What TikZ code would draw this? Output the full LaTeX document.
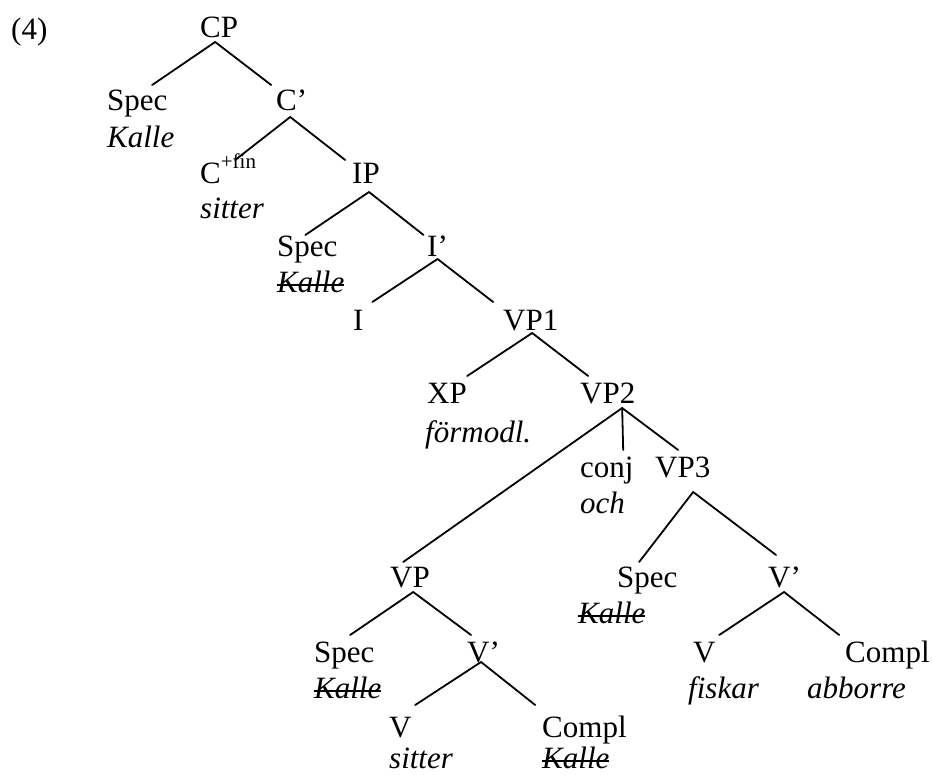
\documentclass[tikz,border=0pt]{standalone}
\usepackage{fontspec}
\setmainfont{Liberation Serif}
\newcommand\strk[1]{\setbox0=\hbox{#1}\rlap{\copy0}\rule[6.3pt]{\wd0}{1.8pt}}
\begin{document}
\begin{tikzpicture}[x=1pt,y=-1pt,
  every node/.style={inner sep=0pt, anchor=base west, font=\fontsize{31}{36}\selectfont},
  cat/.style={},
  word/.style={font=\fontsize{31}{36}\selectfont\itshape},
  branch/.style={line width=1.8pt, line cap=round}]
\useasboundingbox (0,0) rectangle (932,774);
% labels
\node (ex) at (11,39) {(4)};
\node[cat] (cp) at (200,37) {CP};
\node[cat] (spec1) at (107,110) {Spec};
\node[word] (kalle1) at (107,147) {Kalle};
\node[cat] (cb) at (276,110) {C’};
\node[cat] (c) at (200,183) {C\raisebox{15pt}{\fontsize{21}{21}\selectfont +fin}};
\node[word] (sitter1) at (200,218) {sitter};
\node[cat] (ip) at (352,183) {IP};
\node[cat] (spec2) at (277,256) {Spec};
\node[word] (kalle2) at (277,292) {\strk{Kalle}};
\node[cat] (ib) at (427,256) {I’};
\node[cat] (i) at (353,330) {I};
\node[cat] (vp1) at (503,330) {VP1};
\node[cat] (xp) at (427,403) {XP};
\node[word] (formodl) at (425,442) {förmodl.};
\node[cat] (vp2) at (580,403) {VP2};
\node[cat] (conj) at (580,477) {conj};
\node[word] (och) at (580,513) {och};
\node[cat] (vp3) at (655,477) {VP3};
\node[cat] (vp) at (390,587) {VP};
\node[cat] (spec3) at (617,587) {Spec};
\node[word] (kalle3) at (578,623) {\strk{Kalle}};
\node[cat] (vb3) at (768,587) {V’};
\node[cat] (spec4) at (314,662) {Spec};
\node[word] (kalle4) at (314,698) {\strk{Kalle}};
\node[cat] (vb4) at (467,662) {V’};
\node[cat] (v3) at (693,662) {V};
\node[word] (fiskar) at (688,698) {fiskar};
\node[cat] (compl3) at (845,662) {Compl};
\node[word] (abborre) at (807,698) {abborre};
\node[cat] (v4) at (389,737) {V};
\node[word] (sitter2) at (389,768) {sitter};
\node[cat] (compl4) at (542,737) {Compl};
\node[word] (kalle5) at (542,768) {\strk{Kalle}};
% branches
\draw[branch] ([shift={(-4,5)}]cp.base) -- ([shift={(14.8,-25)}]spec1.base);
\draw[branch] ([shift={(-4,5)}]cp.base) -- ([shift={(-20.5,-25)}]cb.base);
\draw[branch] ([shift={(-1.5,7)}]cb.base) -- ([shift={(7,-23)}]c.base);
\draw[branch] ([shift={(-1.5,7)}]cb.base) -- ([shift={(-20.8,-23)}]ip.base);
\draw[branch] ([shift={(3,9)}]ip.base) -- ([shift={(-2,-21)}]spec2.base);
\draw[branch] ([shift={(3,9)}]ip.base) -- ([shift={(-14,-21)}]ib.base);
\draw[branch] ([shift={(0,3)}]ib.base) -- ([shift={(14,-28)}]i.base);
\draw[branch] ([shift={(0,3)}]ib.base) -- ([shift={(-37.6,-28)}]vp1.base);
\draw[branch] ([shift={(1.4,3)}]vp1.base) -- ([shift={(20.2,-27)}]xp.base);
\draw[branch] ([shift={(1.4,3)}]vp1.base) -- ([shift={(-19.6,-27)}]vp2.base);
\draw[branch] ([shift={(14.4,5)}]vp2.base) -- ([shift={(-6.8,-25)}]vp.base);
\draw[branch] ([shift={(14.4,5)}]vp2.base) -- ([shift={(16.3,-27)}]conj.base);
\draw[branch] ([shift={(14.4,5)}]vp2.base) -- ([shift={(-4.6,-27)}]vp3.base);
\draw[branch] ([shift={(10.4,15)}]vp3.base) -- ([shift={(-8.2,-25)}]spec3.base);
\draw[branch] ([shift={(10.4,15)}]vp3.base) -- ([shift={(-8.5,-32)}]vb3.base);
\draw[branch] ([shift={(-0.5,5)}]vb3.base) -- ([shift={(14.8,-27)}]v3.base);
\draw[branch] ([shift={(-0.5,5)}]vb3.base) -- ([shift={(-48.2,-27)}]compl3.base);
\draw[branch] ([shift={(3.2,5)}]vp.base) -- ([shift={(5.8,-27)}]spec4.base);
\draw[branch] ([shift={(3.2,5)}]vp.base) -- ([shift={(-12.5,-27)}]vb4.base);
\draw[branch] ([shift={(-2.5,0)}]vb4.base) -- ([shift={(14.8,-32)}]v4.base);
\draw[branch] ([shift={(-2.5,0)}]vb4.base) -- ([shift={(-49.2,-32)}]compl4.base);
\end{tikzpicture}
\end{document}
